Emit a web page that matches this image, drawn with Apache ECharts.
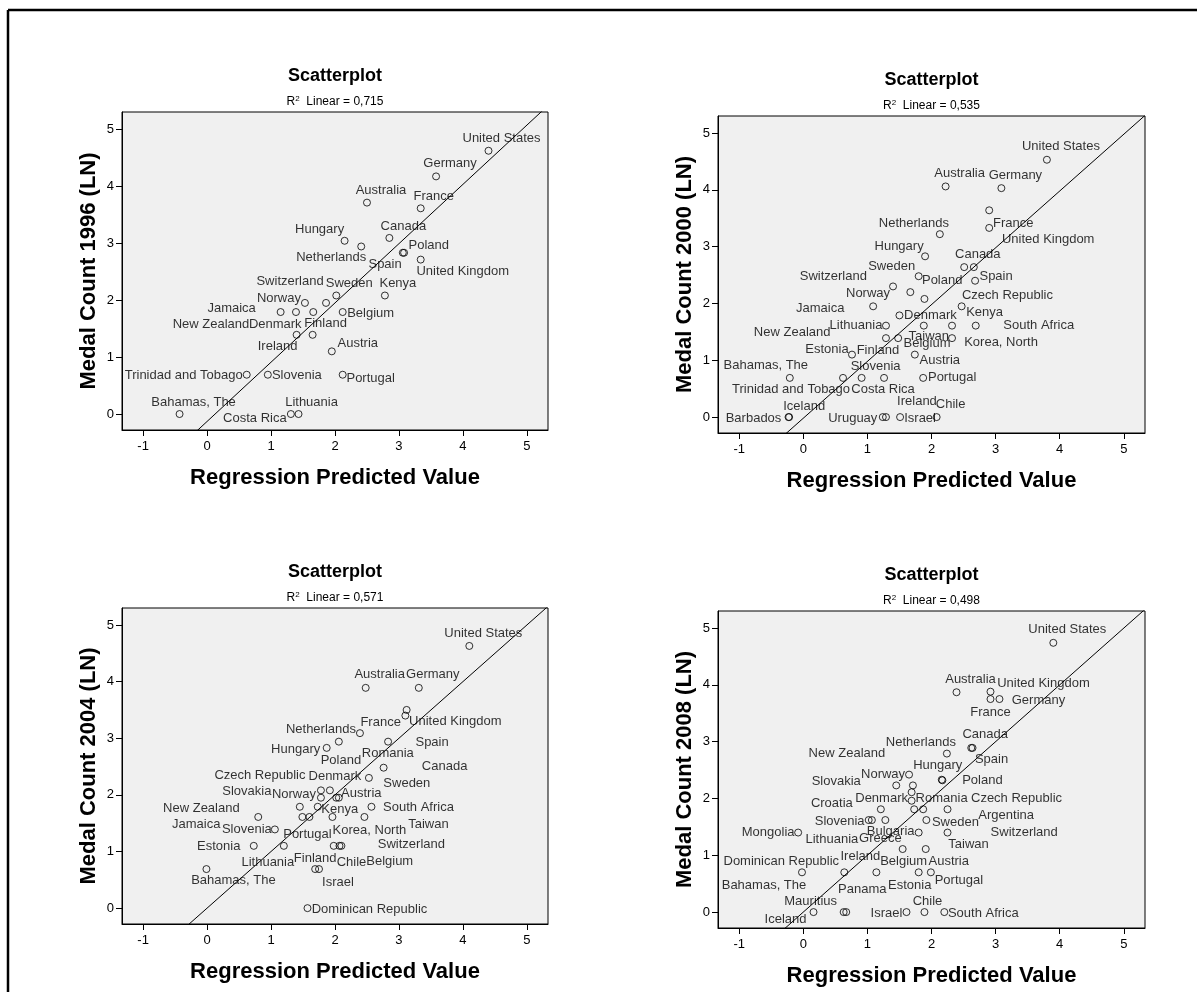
<!DOCTYPE html>
<html>
<head>
<meta charset="utf-8">
<script src="https://cdn.jsdelivr.net/npm/echarts@6/dist/echarts.min.js"></script>
<style>
  html, body { margin: 0; padding: 0; background: #fff; }
  #chart-container { width: 1197px; height: 992px; }
</style>
</head>
<body>
<div id="chart-container"></div>
<script>
var dom = document.getElementById('chart-container');
var myChart = echarts.init(dom, null, {
  renderer: 'canvas',
  useDirtyRect: false,
});

// tick labels shared by all four scatterplots
const xTickValues = [-1, 0, 1, 2, 3, 4, 5];
const yTickValues = [0, 1, 2, 3, 4, 5];

const years = [1996, 2000, 2004, 2008];
const r2Labels = ['0,715', '0,535', '0,571', '0,498'];
// fit line: intercept, slope
const fitIntercepts = [-0.13, -0.02, 0.0, 0.0];
const fitSlopes = [1.04, 1.0, 1.0, 1.0];

// ---- 1996 ----
const names1996 = ['United States', 'Germany', 'Australia', 'France', 'Canada', 'Hungary', 'Netherlands',
  'Poland', 'Spain', 'United Kingdom', 'Sweden', 'Kenya', 'Switzerland', 'Norway', 'Jamaica', 'New Zealand',
  'Denmark', 'Belgium', 'Finland', 'Ireland', 'Austria', 'Trinidad and Tobago', 'Slovenia', 'Portugal',
  'Bahamas, The', 'Lithuania', 'Costa Rica'];
const pred1996 = [4.40, 3.58, 2.50, 3.34, 2.85, 2.15, 2.41, 3.06, 3.08, 3.34, 2.02, 2.78, 1.86, 1.53, 1.15, 1.39,
  1.66, 2.12, 1.65, 1.40, 1.95, 0.62, 0.95, 2.12, -0.43, 1.43, 1.31];
const medal1996 = [4.62, 4.17, 3.71, 3.61, 3.09, 3.04, 2.94, 2.83, 2.83, 2.71, 2.08, 2.08, 1.95, 1.95, 1.79, 1.79,
  1.79, 1.79, 1.39, 1.39, 1.10, 0.69, 0.69, 0.69, 0, 0, 0];

// ---- 2000 ----
const names2000 = ['United States', 'Australia', 'Germany', 'France', 'United Kingdom', 'Netherlands', 'Hungary',
  'Poland', 'Canada', 'Sweden', 'Spain', 'Norway', 'Switzerland', 'Czech Republic', 'Jamaica', 'Kenya', 'Denmark',
  'Lithuania', 'Taiwan', 'Belgium', 'South Africa', 'Finland', 'New Zealand', 'Korea, North', 'Estonia', 'Austria',
  'Bahamas, The', 'Trinidad and Tobago', 'Slovenia', 'Costa Rica', 'Portugal', 'Barbados', 'Iceland', 'Uruguay',
  'Ireland', 'Israel', 'Chile'];
const pred2000 = [3.80, 2.22, 3.09, 2.90, 2.90, 2.13, 1.90, 2.51, 2.66, 1.80, 2.68, 1.40, 1.67, 1.89, 1.09, 2.47, 1.50,
  1.29, 1.88, 2.32, 2.69, 1.29, 1.48, 2.32, 0.76, 1.74, -0.21, 0.62, 0.91, 1.26, 1.87, -0.23, -0.22, 1.24, 1.29,
  1.51, 2.08];
const medal2000 = [4.53, 4.06, 4.03, 3.64, 3.33, 3.22, 2.83, 2.64, 2.64, 2.48, 2.40, 2.30, 2.20, 2.08, 1.95, 1.95, 1.79,
  1.61, 1.61, 1.61, 1.61, 1.39, 1.39, 1.39, 1.10, 1.10, 0.69, 0.69, 0.69, 0.69, 0.69, 0, 0, 0, 0, 0, 0];

// ---- 2004 ----
const names2004 = ['United States', 'Australia', 'Germany', 'France', 'United Kingdom', 'Netherlands', 'Hungary',
  'Romania', 'Spain', 'Canada', 'Poland', 'Czech Republic', 'Denmark', 'Norway', 'Austria', 'Sweden', 'Slovakia',
  'Kenya', 'South Africa', 'New Zealand', 'Portugal', 'Korea, North', 'Taiwan', 'Jamaica', 'Slovenia', 'Lithuania',
  'Estonia', 'Belgium', 'Chile', 'Switzerland', 'Bahamas, The', 'Finland', 'Israel', 'Dominican Republic'];
const pred2004 = [4.10, 2.48, 3.31, 3.12, 3.10, 2.39, 1.87, 2.06, 2.83, 2.76, 2.53, 1.78, 1.92, 1.78, 2.02, 2.06, 1.45,
  1.73, 2.57, 1.49, 1.60, 1.96, 2.46, 0.80, 1.06, 1.20, 0.73, 1.98, 2.07, 2.10, -0.01, 1.69, 1.75, 1.57];
const medal2004 = [4.63, 3.89, 3.89, 3.50, 3.40, 3.09, 2.83, 2.94, 2.94, 2.48, 2.30, 2.08, 2.08, 1.95, 1.95, 1.95, 1.79,
  1.79, 1.79, 1.61, 1.61, 1.61, 1.61, 1.61, 1.39, 1.10, 1.10, 1.10, 1.10, 1.10, 0.69, 0.69, 0.69, 0];

// ---- 2008 ----
const names2008 = ['United States', 'Australia', 'United Kingdom', 'France', 'Germany', 'Canada', 'Spain',
  'Netherlands', 'Norway', 'Hungary', 'Poland', 'Slovakia', 'New Zealand', 'Denmark', 'Romania', 'Croatia',
  'Switzerland', 'Argentina', 'Czech Republic', 'Slovenia', 'Lithuania', 'Greece', 'Sweden', 'Mongolia', 'Bulgaria',
  'Taiwan', 'Belgium', 'Austria', 'Bahamas, The', 'Dominican Republic', 'Ireland', 'Estonia', 'Portugal', 'Iceland',
  'Mauritius', 'Panama', 'Israel', 'Chile', 'South Africa'];
const pred2008 = [3.90, 2.39, 2.92, 2.92, 3.06, 2.62, 2.64, 2.24, 1.65, 2.16, 2.17, 1.45, 1.71, 1.69, 1.69, 1.21, 1.73,
  1.87, 2.25, 1.02, 1.07, 1.28, 1.92, -0.08, 1.80, 2.25, 1.55, 1.91, -0.02, 0.64, 1.14, 1.80, 1.99, 0.16, 0.63, 0.67,
  1.61, 1.89, 2.20];
const medal2008 = [4.74, 3.87, 3.88, 3.75, 3.75, 2.89, 2.89, 2.79, 2.42, 2.33, 2.32, 2.23, 2.23, 2.11, 1.96, 1.81, 1.81,
  1.81, 1.81, 1.62, 1.62, 1.62, 1.62, 1.40, 1.40, 1.40, 1.11, 1.11, 0.70, 0.70, 0.70, 0.70, 0.70, 0, 0, 0, 0, 0, 0];

// label offsets (px, label centre relative to the point), kept apart from the values
const labelOffsets = [
  [[13, -12], [14, -13], [14, -12], [13, -12], [14, -12], [-25, -11], [-30, 11], [26, -7], [-19, 12], [42, 12],
   [13, -12], [13, -12], [-36, -21], [-26, -4], [-49, -4], [-85, 12], [-38, 12], [28, 1], [13, -11], [-19, 12],
   [26, -8], [-63, 1], [29, 1], [28, 4], [14, -12], [13, -12], [-36, 4]],
  [[14, -13], [14, -13], [14, -13], [24, 13], [59, 12], [-26, -11], [-26, -10], [-22, 13], [4, -13], [-27, -10],
   [21, -4], [-25, 7], [-77, -16], [83, -4], [-53, 2], [23, 6], [31, 0], [-30, 0], [5, 11], [-25, 18], [63, 0],
   [-8, 12], [-106, -6], [49, 4], [-25, -5], [25, 6], [-24, -12], [-52, 12], [14, -11], [-1, 12], [29, 0],
   [-35, 1], [15, -11], [-30, 1], [31, -16], [20, 1], [14, -13]],
  [[14, -13], [14, -13], [14, -13], [-26, 12], [50, 6], [-39, -4], [-31, 2], [49, 12], [44, 1], [61, -1],
   [-28, -17], [-61, -15], [5, -14], [-27, -3], [25, -4], [68, -14], [-53, -15], [22, 3], [47, 1], [-101, -9],
   [-2, 17], [37, 13], [64, 7], [-62, 7], [-28, 0], [-16, 17], [-35, 1], [56, 16], [12, 17], [70, -1], [27, 11],
   [0, -11], [19, 13], [62, 1]],
  [[14, -13], [14, -13], [53, -8], [0, 13], [39, 1], [14, -13], [19, 12], [-26, -11], [-26, 0], [-4, -14], [40, 0],
   [-60, -4], [-66, -32], [-30, 6], [30, -2], [-49, -6], [110, 23], [83, 6], [69, -11], [-29, 1], [-40, 19],
   [-5, 18], [29, 2], [-30, 0], [-28, -1], [21, 12], [1, 12], [23, 12], [-38, 13], [-63, -11], [-16, -16],
   [-9, 13], [28, 8], [-28, 7], [-33, -11], [16, -23], [-20, 1], [3, -11], [39, 1]],
];

const panelNames = [names1996, names2000, names2004, names2008];
const panelPred = [pred1996, pred2000, pred2004, pred2008];
const panelMedal = [medal1996, medal2000, medal2004, medal2008];

const xMin = -1.33, xMax = 5.33, yMin = -0.28, yMax = 5.3;
const FONT = '"Liberation Sans", Arial, sans-serif';

// plot box of each panel (pixels)
const layout = [
  { left: 122, top: 112, width: 426, height: 318 },
  { left: 718, top: 116, width: 427, height: 317 },
  { left: 122, top: 608, width: 426, height: 316 },
  { left: 718, top: 611, width: 427, height: 317 },
];

const grids = [], xAxes = [], yAxes = [], series = [], graphics = [];

layout.forEach(function (g, i) {
  grids.push({
    left: g.left, top: g.top, width: g.width, height: g.height,
    show: true, backgroundColor: '#f0f0f0', borderColor: '#000', borderWidth: 1,
    containLabel: false,
  });

  xAxes.push({
    gridIndex: i, type: 'value', min: xMin, max: xMax,
    axisLine: { show: true, onZero: false, lineStyle: { color: '#000', width: 1 } },
    axisTick: { show: true, length: 6, customValues: xTickValues, lineStyle: { color: '#000' } },
    axisLabel: { customValues: xTickValues, fontSize: 13, color: '#000', margin: 10, fontFamily: FONT },
    splitLine: { show: false },
    name: 'Regression Predicted Value', nameLocation: 'middle', nameGap: 37,
    nameTextStyle: { fontSize: 22, fontWeight: 'bold', color: '#000', fontFamily: FONT },
  });

  yAxes.push({
    gridIndex: i, type: 'value', min: yMin, max: yMax,
    axisLine: { show: true, onZero: false, lineStyle: { color: '#000', width: 1 } },
    axisTick: { show: true, length: 6, customValues: yTickValues, lineStyle: { color: '#000' } },
    axisLabel: { customValues: yTickValues, fontSize: 13, color: '#000', margin: 8, fontFamily: FONT },
    splitLine: { show: false },
    name: 'Medal Count ' + years[i] + ' (LN)', nameLocation: 'middle', nameGap: 22,
    nameTextStyle: { fontSize: 22, fontWeight: 'bold', color: '#000', fontFamily: FONT },
  });

  const pts = panelNames[i].map(function (n, k) {
    return {
      name: n,
      value: [panelPred[i][k], panelMedal[i][k]],
      label: { offset: labelOffsets[i][k] },
    };
  });

  series.push({
    type: 'scatter', xAxisIndex: i, yAxisIndex: i,
    symbol: 'circle', symbolSize: 7,
    itemStyle: { color: 'rgba(0,0,0,0)', borderColor: '#000', borderWidth: 1 },
    label: {
      show: true, position: 'inside', formatter: '{b}',
      fontSize: 13, color: '#000', fontFamily: FONT,
      align: 'center', verticalAlign: 'middle',
    },
    emphasis: { disabled: true },
    silent: true,
    z: 3,
    data: pts,
  });

  // fit line across the whole axis range
  const a = fitIntercepts[i], b = fitSlopes[i];
  series.push({
    type: 'line', xAxisIndex: i, yAxisIndex: i,
    symbol: 'none', clip: true, silent: true,
    lineStyle: { color: '#000', width: 1 },
    data: [[xMin, a + b * xMin], [xMax, a + b * xMax]],
    z: 2,
  });

  const cx = g.left + g.width / 2;
  graphics.push({
    type: 'text', x: cx, y: g.top - 36,
    style: { text: 'Scatterplot', font: 'bold 18px ' + FONT, fill: '#000', align: 'center', verticalAlign: 'middle' },
  });
  graphics.push({
    type: 'text', x: cx, y: g.top - 10,
    style: {
      text: '{r|R}{s|2}{r|  Linear = ' + r2Labels[i] + '}',
      align: 'center', verticalAlign: 'middle',
      rich: {
        r: { fontSize: 12, fontFamily: FONT, fill: '#000', color: '#000' },
        s: { fontSize: 8, fontFamily: FONT, fill: '#000', color: '#000', padding: [0, 0, 6, 0] },
      },
    },
  });
});

// outer frame (left and top edges)
graphics.push({ type: 'line', shape: { x1: 8, y1: 10, x2: 1197, y2: 10 }, style: { stroke: '#000', lineWidth: 2.5 } });
graphics.push({ type: 'line', shape: { x1: 8, y1: 10, x2: 8, y2: 992 }, style: { stroke: '#000', lineWidth: 2.5 } });

var option = {
  animation: false,
  backgroundColor: '#fff',
  grid: grids,
  xAxis: xAxes,
  yAxis: yAxes,
  series: series,
  graphic: graphics,
};

myChart.setOption(option);

window.addEventListener('resize', myChart.resize);
</script>
</body>
</html>
